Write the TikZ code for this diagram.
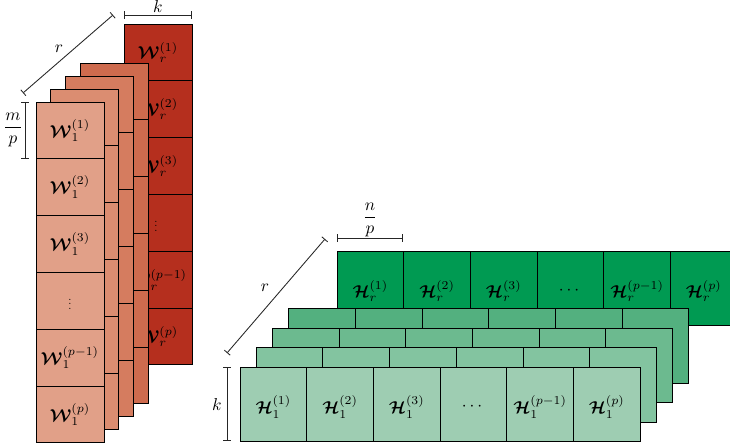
\documentclass[tikz,border=0pt]{standalone}
\usepackage{amsmath}
\usepackage{bm}
\usetikzlibrary{arrows.meta}
\definecolor{wBack}{HTML}{B52F1E}
\definecolor{wLayerC}{HTML}{CE6B4E}
\definecolor{wLayerB}{HTML}{D57C5F}
\definecolor{wLayerA}{HTML}{DB8D71}
\definecolor{wFront}{HTML}{E1A088}
\definecolor{hBack}{HTML}{009A52}
\definecolor{hLayerC}{HTML}{53B07F}
\definecolor{hLayerB}{HTML}{6CBA8F}
\definecolor{hLayerA}{HTML}{83C4A0}
\definecolor{hFront}{HTML}{9ECDB2}

\tikzset{
  cell/.style={draw=black, line width=0.5pt},
  dimline/.style={{Bar[width=4.5pt]}-{Bar[width=4.5pt]}, line width=0.5pt, black!85},
  lab/.style={inner sep=1pt},
  dots/.style={inner sep=0pt, scale=0.65}
}

\begin{document}
\begin{tikzpicture}[x=0.58pt, y=-0.58pt]
  \path[use as bounding box] (0,0) rectangle (730,448);

  % W stack: back layer r first, front layer 1 last
  \foreach \i in {1,...,6}{
    \draw[cell, fill=wBack] (124,{24+(\i-1)*56.8}) rectangle ++(68,56.8);
  }
  \foreach \i/\lab in {1/{\bm{\mathcal{W}}_r^{(1)}}, 2/{\bm{\mathcal{W}}_r^{(2)}},
      3/{\bm{\mathcal{W}}_r^{(3)}}, 5/{\bm{\mathcal{W}}_r^{(p-1)}},
      6/{\bm{\mathcal{W}}_r^{(p)}}}{
    \node[lab] (wr-\i) at (158,{24+(\i-0.5)*56.8}) {$\lab$};
  }
  \node[dots] (wr-4) at (156,{24+3.5*56.8}) {$\vdots$};
  \foreach \l/\col in {3/wLayerC, 2/wLayerB, 1/wLayerA}{
    \foreach \i in {1,...,6}{
      \draw[cell, fill=\col] ({36+\l*14.7},{102-\l*13+(\i-1)*56.8}) rectangle ++(68,56.8);
    }
  }
  \foreach \i in {1,...,6}{
    \draw[cell, fill=wFront] (36,{102+(\i-1)*56.8}) rectangle ++(68,56.8);
  }
  \foreach \i/\lab in {1/{\bm{\mathcal{W}}_1^{(1)}}, 2/{\bm{\mathcal{W}}_1^{(2)}},
      3/{\bm{\mathcal{W}}_1^{(3)}}, 5/{\bm{\mathcal{W}}_1^{(p-1)}},
      6/{\bm{\mathcal{W}}_1^{(p)}}}{
    \node[lab] (w1-\i) at (70,{102+(\i-0.5)*56.8}) {$\lab$};
  }
  \node[dots] (w1-4) at (70,{102+3.5*56.8}) {$\vdots$};

  % W dimensions
  \coordinate (wk-a) at (124,15);
  \coordinate (wk-b) at (192,15);
  \coordinate (wr-a) at (23,93);
  \coordinate (wr-b) at (113,15);
  \coordinate (wm-a) at (25,102);
  \coordinate (wm-b) at (25,159);
  \draw[dimline] (wk-a) -- (wk-b);
  \node[lab] (wk-lab) at (158,7) {$k$};
  \draw[dimline] (wr-a) -- (wr-b);
  \node[lab] (wr-lab) at (59,49) {$r$};
  \draw[dimline] (wm-a) -- (wm-b);
  \node[lab] (wm-lab) at (13,130) {$\dfrac{m}{p}$};

  % H stack: back layer r first, front layer 1 last
  \foreach \i/\lab in {1/{\bm{\mathcal{H}}_r^{(1)}}, 2/{\bm{\mathcal{H}}_r^{(2)}},
      3/{\bm{\mathcal{H}}_r^{(3)}}, 4/{\cdots}, 5/{\bm{\mathcal{H}}_r^{(p-1)}},
      6/{\bm{\mathcal{H}}_r^{(p)}}}{
    \draw[cell, fill=hBack] ({337+(\i-1)*66.7},251) rectangle ++(66.7,74.5);
    \node[lab] (hr-\i) at ({337+(\i-0.5)*66.7},291) {$\lab$};
  }
  \foreach \l/\col in {3/hLayerC, 2/hLayerB, 1/hLayerA}{
    \foreach \i in {1,...,6}{
      \draw[cell, fill=\col] ({240+\l*16.2+(\i-1)*66.7},{367-\l*19.4}) rectangle ++(66.7,74.5);
    }
  }
  \foreach \i/\lab in {1/{\bm{\mathcal{H}}_1^{(1)}}, 2/{\bm{\mathcal{H}}_1^{(2)}},
      3/{\bm{\mathcal{H}}_1^{(3)}}, 4/{\cdots}, 5/{\bm{\mathcal{H}}_1^{(p-1)}},
      6/{\bm{\mathcal{H}}_1^{(p)}}}{
    \draw[cell, fill=hFront] ({240+(\i-1)*66.7},367) rectangle ++(66.7,74.5);
    \node[lab] (h1-\i) at ({240+(\i-0.5)*66.7},407) {$\lab$};
  }

  % H dimensions
  \coordinate (hn-a) at (337,238);
  \coordinate (hn-b) at (403,238);
  \coordinate (hr-a) at (227,353);
  \coordinate (hr-b) at (325,239);
  \coordinate (hk-a) at (227,367);
  \coordinate (hk-b) at (227,441);
  \draw[dimline] (hn-a) -- (hn-b);
  \node[lab] (hn-lab) at (370,220) {$\dfrac{n}{p}$};
  \draw[dimline] (hr-a) -- (hr-b);
  \node[lab] (hr-lab) at (265,288) {$r$};
  \draw[dimline] (hk-a) -- (hk-b);
  \node[lab] (hk-lab) at (217,405) {$k$};
\end{tikzpicture}
\end{document}
